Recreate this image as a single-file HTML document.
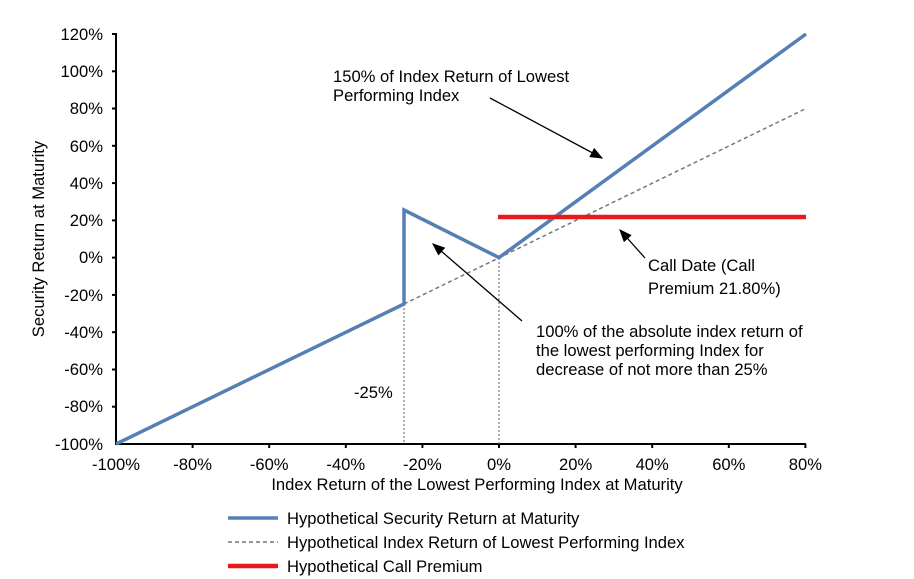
<!DOCTYPE html>
<html><head><style>body{margin:0;background:#fff}svg{display:block}text{font-family:"Liberation Sans",Arial,sans-serif;font-size:16.6px;fill:#000}</style></head><body>
<svg width="914" height="579" xmlns="http://www.w3.org/2000/svg">
<g stroke="#000" stroke-width="2">
<line x1="116" y1="33" x2="116" y2="445"/>
<line x1="115" y1="444" x2="806" y2="444"/>
<line x1="112" y1="34" x2="116" y2="34"/><line x1="112" y1="71.3" x2="116" y2="71.3"/><line x1="112" y1="108.5" x2="116" y2="108.5"/><line x1="112" y1="145.8" x2="116" y2="145.8"/><line x1="112" y1="183.1" x2="116" y2="183.1"/><line x1="112" y1="220.4" x2="116" y2="220.4"/><line x1="112" y1="257.6" x2="116" y2="257.6"/><line x1="112" y1="294.9" x2="116" y2="294.9"/><line x1="112" y1="332.2" x2="116" y2="332.2"/><line x1="112" y1="369.5" x2="116" y2="369.5"/><line x1="112" y1="406.7" x2="116" y2="406.7"/>
<line x1="192.6" y1="444" x2="192.6" y2="448"/><line x1="269.2" y1="444" x2="269.2" y2="448"/><line x1="345.8" y1="444" x2="345.8" y2="448"/><line x1="422.4" y1="444" x2="422.4" y2="448"/><line x1="499" y1="444" x2="499" y2="448"/><line x1="575.6" y1="444" x2="575.6" y2="448"/><line x1="652.2" y1="444" x2="652.2" y2="448"/><line x1="728.8" y1="444" x2="728.8" y2="448"/><line x1="805.4" y1="444" x2="805.4" y2="448"/>
</g>
<g text-anchor="end">
<text x="103" y="40">120%</text><text x="103" y="77">100%</text><text x="103" y="114">80%</text><text x="103" y="152">60%</text><text x="103" y="189">40%</text><text x="103" y="226">20%</text><text x="103" y="263">0%</text><text x="103" y="301">-20%</text><text x="103" y="338">-40%</text><text x="103" y="375">-60%</text><text x="103" y="412">-80%</text><text x="103" y="450">-100%</text>
</g>
<g text-anchor="middle">
<text x="116" y="470">-100%</text><text x="192.6" y="470">-80%</text><text x="269.2" y="470">-60%</text><text x="345.8" y="470">-40%</text><text x="422.4" y="470">-20%</text><text x="499" y="470">0%</text><text x="575.6" y="470">20%</text><text x="652.2" y="470">40%</text><text x="728.8" y="470">60%</text><text x="805.4" y="470">80%</text>
<text x="477" y="490">Index Return of the Lowest Performing Index at Maturity</text>
<text transform="translate(44,239) rotate(-90)">Security Return at Maturity</text>
</g>
<g stroke="#777" stroke-width="1.2" stroke-dasharray="2,2">
<line x1="404" y1="304" x2="404" y2="444"/><line x1="499" y1="258" x2="499" y2="444"/>
</g>
<line x1="404" y1="304" x2="806" y2="108.5" stroke="#777" stroke-width="1.5" stroke-dasharray="4,3"/>
<polyline points="116,444 404,304 404,210 499,257.6 806,34" fill="none" stroke="#5580b5" stroke-width="3.5"/>
<line x1="498" y1="217" x2="806" y2="217" stroke="#e8191a" stroke-width="4.5"/>
<text x="354" y="398">-25%</text>
<text x="333" y="82">150% of Index Return of Lowest</text><text x="333" y="101">Performing Index</text>
<text x="648" y="271">Call Date (Call</text><text x="648" y="294">Premium 21.80%)</text>
<text x="536" y="337">100% of the absolute index return of</text><text x="536" y="356">the lowest performing Index for</text><text x="536" y="375">decrease of not more than 25%</text>
<defs><marker id="a" markerWidth="10" markerHeight="8" refX="9" refY="4" orient="auto"><path d="M0,0L10,4L0,8z" fill="#000"/></marker></defs>
<g stroke="#000" stroke-width="1.3" marker-end="url(#a)">
<line x1="490" y1="98" x2="602" y2="158"/>
<line x1="645" y1="258" x2="620" y2="230"/>
<line x1="522" y1="321" x2="433" y2="244"/>
</g>
<line x1="228" y1="518" x2="278" y2="518" stroke="#5580b5" stroke-width="3.5"/>
<text x="287" y="524">Hypothetical Security Return at Maturity</text>
<line x1="228" y1="542" x2="278" y2="542" stroke="#777" stroke-width="1.5" stroke-dasharray="4,3"/>
<text x="287" y="548">Hypothetical Index Return of Lowest Performing Index</text>
<line x1="228" y1="566" x2="278" y2="566" stroke="#e8191a" stroke-width="4.5"/>
<text x="287" y="572">Hypothetical Call Premium</text>
</svg>
</body></html>
